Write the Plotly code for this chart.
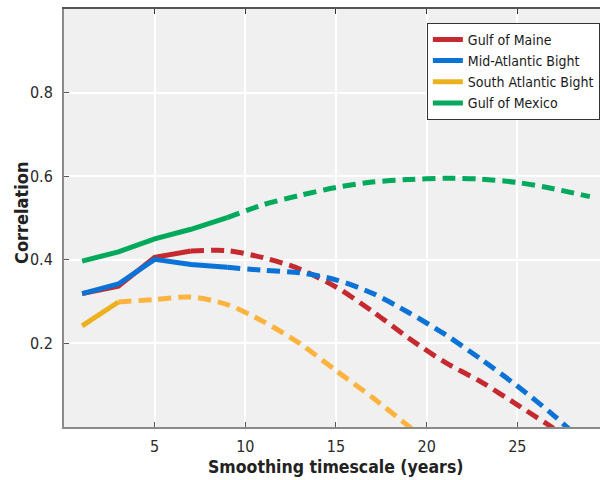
import plotly.graph_objects as go

# ---- data ----
series_names = ["Gulf of Maine", "Mid-Atlantic Bight", "South Atlantic Bight", "Gulf of Mexico"]

gom_x_solid = [1, 3, 5, 7]
gom_y_solid = [0.319, 0.337, 0.406, 0.421]
gom_x_dash = [7, 9, 11, 13, 15, 17, 19, 21, 23, 25, 27]
gom_y_dash = [0.421, 0.422, 0.405, 0.378, 0.335, 0.277, 0.213, 0.155, 0.108, 0.053, -0.003]

mab_x_solid = [1, 3, 5, 7, 9]
mab_y_solid = [0.319, 0.342, 0.401, 0.389, 0.382]
mab_x_dash = [9, 11, 13, 15, 17, 19, 21, 23, 25, 27, 29]
mab_y_dash = [0.382, 0.375, 0.369, 0.352, 0.320, 0.274, 0.222, 0.162, 0.098, 0.028, -0.05]

sab_x_solid = [1, 3]
sab_y_solid = [0.242, 0.299]
sab_x_dash = [3, 5, 7, 9, 11, 13, 15, 17, 19, 21]
sab_y_dash = [0.299, 0.305, 0.311, 0.293, 0.252, 0.200, 0.135, 0.071, 0.002, -0.07]

gmx_x_solid = [1, 3, 5, 7, 9]
gmx_y_solid = [0.397, 0.419, 0.450, 0.473, 0.501]
gmx_x_dash = [9, 11, 13, 15, 17, 19, 21, 23, 25, 27, 29]
gmx_y_dash = [0.501, 0.532, 0.554, 0.573, 0.586, 0.592, 0.595, 0.593, 0.585, 0.570, 0.551]

x_ticks = [5, 10, 15, 20, 25]
y_ticks = [0.2, 0.4, 0.6, 0.8]
y_tick_labels = ["0.2", "0.4", "0.6", "0.8"]

# ---- styling ----
FONT = "DejaVu Sans Condensed, DejaVu Sans, sans-serif"
colors_solid = ["#C42A30", "#0B72D6", "#EDB120", "#00A95C"]
colors_dash = ["#C42A30", "#0B72D6", "#FDB33F", "#00A95C"]
LW = 5
DASH = "13px,7px"

fig = go.Figure()

groups = [
    (gom_x_solid, gom_y_solid, gom_x_dash, gom_y_dash),
    (mab_x_solid, mab_y_solid, mab_x_dash, mab_y_dash),
    (sab_x_solid, sab_y_solid, sab_x_dash, sab_y_dash),
    (gmx_x_solid, gmx_y_solid, gmx_x_dash, gmx_y_dash),
]

for i, (xs, ys, xd, yd) in enumerate(groups):
    fig.add_trace(go.Scatter(
        x=xd, y=yd, mode="lines", name=series_names[i], legendgroup=series_names[i],
        showlegend=False, line=dict(color=colors_dash[i], width=LW, dash=DASH, shape="spline", smoothing=0.8),
        hoverinfo="skip"))

for i, (xs, ys, xd, yd) in enumerate(groups):
    fig.add_trace(go.Scatter(
        x=xs, y=ys, mode="lines", name=series_names[i], legendgroup=series_names[i],
        showlegend=True, line=dict(color=colors_solid[i], width=LW)))

# invisible trace to carry the top mirror axis
fig.add_trace(go.Scatter(x=[None], y=[None], xaxis="x2", showlegend=False, hoverinfo="skip"))

XMAX = 29.56

fig.update_layout(
    width=600, height=480,
    margin=dict(l=64, r=0, t=9, b=53),
    paper_bgcolor="white",
    plot_bgcolor="#F0F0F0",
    font=dict(family=FONT, size=16, color="#2a2a2a"),
    showlegend=True,
    legend=dict(
        x=0.677, y=0.967, xanchor="left", yanchor="top",
        bgcolor="white", bordercolor="#333333", borderwidth=1,
        font=dict(family=FONT, size=14, color="#1a1a1a"),
        itemwidth=30, tracegroupgap=0,
    ),
    xaxis=dict(
        range=[0, XMAX], tickvals=x_ticks, ticktext=[str(v) for v in x_ticks],
        showgrid=True, gridcolor="white", gridwidth=1.5, zeroline=False,
        showline=True, linecolor="#8a8a8a", linewidth=2,
        ticks="inside", ticklen=5, tickcolor="#555555", tickwidth=1,
        tickfont=dict(family=FONT, size=16, color="#2a2a2a"),
        ticklabelstandoff=4,
    ),
    xaxis2=dict(
        range=[0, XMAX], overlaying="x", side="top", tickvals=x_ticks,
        showticklabels=False, showgrid=False, zeroline=False,
        showline=True, linecolor="#555555", linewidth=2,
        ticks="inside", ticklen=5, tickcolor="#333333", tickwidth=1,
    ),
    yaxis=dict(
        range=[0, 1], tickvals=y_ticks, ticktext=y_tick_labels,
        showgrid=True, gridcolor="white", gridwidth=1.5, zeroline=False,
        showline=True, linecolor="#8a8a8a", linewidth=2,
        ticks="inside", ticklen=5, tickcolor="#555555", tickwidth=1,
        tickfont=dict(family=FONT, size=16, color="#2a2a2a"),
        ticklabelstandoff=6,
    ),
    annotations=[
        dict(text="<b>Smoothing timescale (years)</b>", xref="x", yref="paper",
             x=15, y=-0.0957, xanchor="center", yanchor="middle", showarrow=False,
             font=dict(family=FONT, size=17.5, color="#222222")),
        dict(text="<b>Correlation</b>", xref="paper", yref="paper",
             x=-0.0784, y=0.512, xanchor="center", yanchor="middle", showarrow=False,
             textangle=-90, font=dict(family=FONT, size=18, color="#222222")),
    ],
)

fig.write_html("out.html")
